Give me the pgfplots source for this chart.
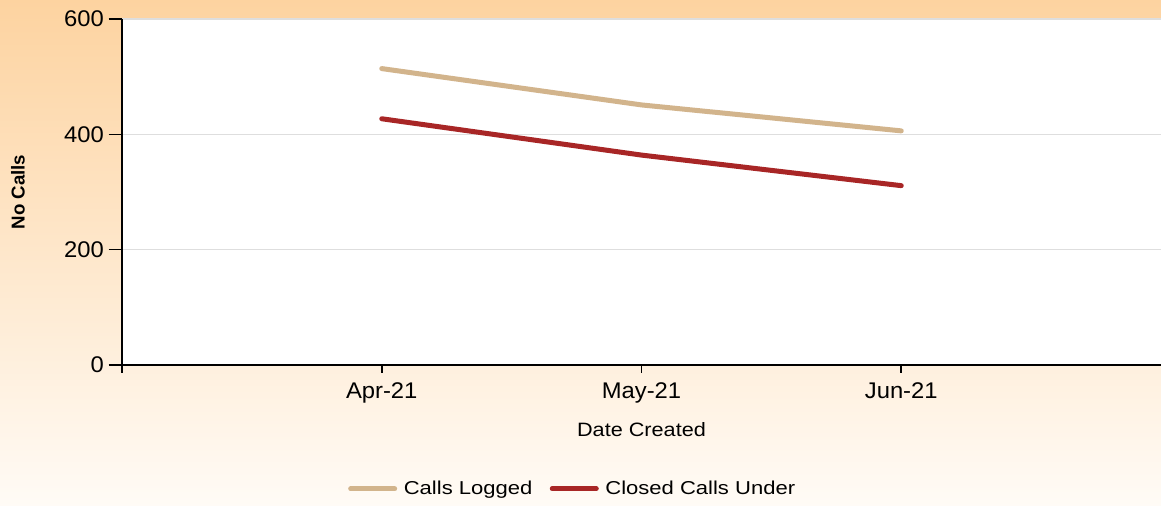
\documentclass[border=0pt]{standalone}
\usepackage{fontspec}
\setmainfont{Liberation Sans}
\newfontfamily\tickfont[FakeStretch=1.05]{Liberation Sans}
\newfontfamily\lblfont[FakeStretch=1.12]{Liberation Sans}
\newfontfamily\legfont[FakeStretch=1.18]{Liberation Sans}
\usepackage{pgfplots}
\pgfplotsset{compat=1.18}
\definecolor{tanline}{RGB}{210,180,140}
\definecolor{redline}{RGB}{168,38,38}
\definecolor{peachtop}{RGB}{253,211,160}
\definecolor{peachbot}{RGB}{255,251,246}
\definecolor{gridgray}{RGB}{222,222,222}
\begin{document}
\begin{tikzpicture}
\shade[top color=peachtop, bottom color=peachbot] (0pt,0pt) rectangle (870.75pt,379.5pt);
\begin{axis}[
  at={(91.5pt,105.75pt)}, anchor=south west,
  scale only axis, width=779.25pt, height=259.5pt,
  xmin=-1, xmax=3, ymin=0, ymax=600,
  xtick={-1,0,1,2}, xticklabels={,Apr-21,May-21,Jun-21},
  ytick={0,200,400,600},
  axis x line*=bottom, axis y line*=left,
  axis line style={black, line width=1.2pt, -},
  tick style={black, line width=1.2pt},
  tick align=outside,
  major tick length=10pt,
  x tick style={/pgfplots/major tick length=6pt},
  ymajorgrids, grid style={gridgray, line width=0.9pt},
  axis background/.style={fill=white},
  /pgf/number format/assume math mode=true,
  ticklabel style={font=\tickfont\fontsize{17}{20}\selectfont},
  xlabel={Date Created},
  xlabel style={font=\lblfont\fontsize{14.5}{17}\selectfont, at={(axis description cs:0.5,-0.188)}, anchor=center},
  ylabel={No Calls},
  ylabel style={font=\bfseries\fontsize{14}{17}\selectfont, at={(axis description cs:-0.1001,0.5)}, anchor=center},
  legend style={at={(axis description cs:0.436,-0.358)}, anchor=center, draw=none, fill=none,
    font=\legfont\fontsize{14}{17}\selectfont, legend columns=2,
    nodes={inner xsep=5pt},
    /tikz/every even column/.append style={column sep=8pt}},
  legend image code/.code={\draw[#1] (0pt,0pt) -- (33pt,0pt);},
]
\addplot[tanline, line width=3.75pt, line cap=round, line join=round] coordinates {(0,514) (1,451) (2,406)};
\addlegendentry{Calls Logged}
\addplot[redline, line width=3.75pt, line cap=round, line join=round] coordinates {(0,427) (1,364) (2,311)};
\addlegendentry{Closed Calls Under}
\end{axis}
\pgfresetboundingbox
\useasboundingbox (0pt,0pt) rectangle (870.75pt,379.5pt);
\end{tikzpicture}
\end{document}
